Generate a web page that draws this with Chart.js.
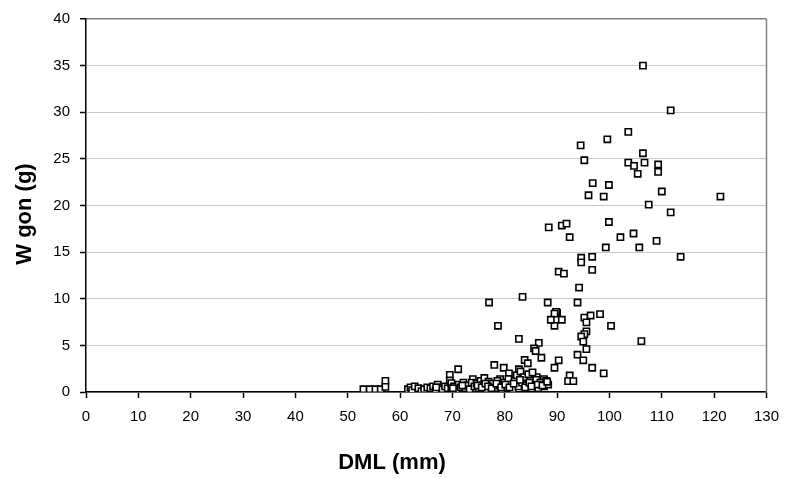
<!DOCTYPE html>
<html>
<head>
<meta charset="utf-8">
<script src="https://cdn.jsdelivr.net/npm/chart.js@4"></script>
<style>
  html, body { margin: 0; padding: 0; background: #fff; }
  #wrap { width: 789px; height: 478px; }
</style>
</head>
<body>
<div id="wrap"><canvas id="chart" width="789" height="478"></canvas></div>
<script>
// DML (mm) and W gon (g)
const dml = [
    106.4, 111.7, 103.6, 99.6, 94.5, 106.4, 95.2, 103.6, 104.7, 106.7,
    109.3, 109.3, 105.4, 96.8, 99.9, 96.0, 98.9, 110.0, 121.2, 107.5,
    111.7, 90.9, 91.8, 99.9, 92.4, 102.1, 104.6, 109.0, 99.3, 105.7,
    94.6, 94.6, 96.7, 113.6, 90.3, 91.3, 96.7, 94.2, 93.9, 90.0,
    90.9, 89.5, 95.2, 96.4, 98.2, 95.6, 100.3, 95.6, 95.2, 94.6,
    95.0, 106.1, 95.6, 93.9, 95.0, 90.3, 89.5, 96.7, 98.9, 92.4,
    92.1, 93.1, 88.4, 77.0, 83.4, 88.2, 89.8, 89.5, 88.8, 78.7,
    82.7, 86.5, 85.6, 85.9, 87.0, 83.8, 84.4, 78.0, 79.8, 80.8,
    82.7, 86.1, 87.5, 87.5, 85.3, 79.1, 69.5, 71.1, 69.5, 73.9,
    53.0, 54.2, 55.3, 56.3, 57.2, 57.2,
    61.5, 62.0, 62.3, 62.8, 63.5, 64.1, 64.6, 65.2, 65.8, 66.3,
    66.8, 67.2, 67.6, 68.1, 68.6, 69.1, 69.8, 69.8, 70.3, 70.7,
    71.2, 71.6, 72.1, 72.5, 72.9, 73.3, 73.7, 74.2, 74.6, 75.0,
    75.4, 75.8, 76.1, 76.5, 76.9, 77.3, 77.7, 78.2, 78.6, 79.0,
    79.5, 79.9, 80.3, 80.7, 81.1, 81.5, 81.9, 82.3, 82.6, 83.0,
    83.3, 83.7, 84.1, 84.5, 84.9, 85.3, 85.7, 86.0, 86.4, 86.8,
    87.9, 88.3,
    74.8, 75.6, 76.3, 76.8, 77.5, 78.4, 79.3, 80.1, 80.9, 81.7,
    82.9, 83.9, 84.7, 85.1, 86.3, 87.2, 88.1, 66.9, 70.1, 71.9
];
const wgon = [
    35.0, 30.2, 27.9, 27.1, 26.45, 25.6, 24.85, 24.6, 24.25, 24.6,
    24.4, 23.6, 23.4, 22.4, 22.2, 21.1, 20.96, 21.5, 20.96, 20.1,
    19.26, 17.85, 18.06, 18.23, 16.6, 16.6, 17.0, 16.2, 15.5, 15.5,
    14.4, 13.9, 14.5, 14.5, 12.9, 12.7, 13.1, 11.2, 9.6, 8.5,
    7.75, 7.1, 7.97, 8.2, 8.35, 7.47, 7.1, 6.5, 6.2, 5.95,
    5.4, 5.45, 4.6, 4.0, 3.4, 3.4, 2.6, 2.6, 2.0, 1.77,
    1.17, 1.17, 17.66, 9.6, 10.2, 9.6, 8.6, 8.4, 7.75, 7.1,
    5.7, 5.27, 4.67, 4.4, 3.67, 3.43, 3.08, 2.9, 2.6, 2.0,
    2.44, 1.6, 1.38, 0.6, 0.6, 1.38, 1.84, 2.44, 1.23, 1.38,
    0.3, 0.3, 0.3, 0.3, 1.2, 0.55,
    0.3, 0.5, 0.2, 0.6, 0.4, 0.1, 0.3, 0.5, 0.4, 0.6,
    0.2, 0.8, 0.5, 0.3, 0.6, 0.4, 0.95, 0.3, 0.6, 0.2,
    0.8, 0.5, 1.0, 0.4, 0.7, 0.3, 1.0, 0.6, 0.9, 0.4,
    1.2, 0.7, 1.5, 0.3, 1.1, 0.6, 0.9, 0.4, 1.2, 0.7,
    0.3, 1.0, 0.5, 1.4, 0.8, 0.3, 1.2, 1.8, 0.6, 2.2,
    1.0, 1.6, 0.7, 1.9, 1.2, 2.1, 0.9, 1.3, 0.4, 1.0,
    1.2, 0.8,
    0.7, 0.5, 0.9, 0.6, 0.4, 0.9, 0.5, 0.8, 0.5, 0.9,
    1.3, 0.5, 1.0, 0.6, 0.8, 0.7, 1.1, 0.5, 0.4, 0.7
];
const xTitle = "DML (mm)";
const yTitle = "W gon (g)";

const FONT = "'Liberation Sans', Arial, sans-serif";

const points = dml.map((x, i) => ({ x: x, y: wgon[i] }));

// axis titles and the grey right-hand frame line
const frame = {
    id: "frame",
    afterDraw(chart) {
        const c = chart.ctx;
        const a = chart.chartArea;
        c.save();
        c.strokeStyle = "#808080";
        c.lineWidth = 1.5;
        c.beginPath();
        c.moveTo(a.right, a.top);
        c.lineTo(a.right, a.bottom);
        c.stroke();

        c.fillStyle = "#000";
        c.font = "bold 22px " + FONT;
        c.textAlign = "center";
        c.textBaseline = "alphabetic";
        c.fillText(xTitle, 392, 469);

        c.translate(31, 214);
        c.rotate(-Math.PI / 2);
        c.fillText(yTitle, 0, 0);
        c.restore();
    }
};

new Chart(document.getElementById("chart"), {
    type: "scatter",
    data: {
        datasets: [{
            data: points,
            pointStyle: "rect",
            pointRadius: 4.4,
            pointHoverRadius: 4.4,
            borderColor: "#000",
            backgroundColor: "#fff",
            borderWidth: 1.6
        }]
    },
    options: {
        responsive: false,
        animation: false,
        layout: { padding: { left: 0, top: 16, right: 18, bottom: 0 } },
        plugins: { legend: { display: false }, tooltip: { enabled: false } },
        scales: {
            x: {
                type: "linear",
                min: 0,
                max: 130,
                afterFit(s) { s.height = 86; },
                ticks: { stepSize: 10, color: "#000", font: { family: FONT, size: 15 }, padding: 10 },
                grid: { drawOnChartArea: false, tickLength: 6, tickColor: "#000", tickWidth: 1.5 },
                border: { color: "#000", width: 1.5 }
            },
            y: {
                min: 0,
                max: 40,
                afterFit(s) { s.width = 86; },
                ticks: { stepSize: 5, color: "#000", font: { family: FONT, size: 15 }, padding: 10 },
                grid: {
                    color: (ctx) => ctx.tick && ctx.tick.value === 40 ? "#808080" : "#c8c8c8",
                    lineWidth: (ctx) => ctx.tick && ctx.tick.value === 40 ? 1.5 : 1,
                    tickLength: 6,
                    tickColor: "#000",
                    tickWidth: 1.5
                },
                border: { color: "#000", width: 1.5 }
            }
        }
    },
    plugins: [frame]
});
</script>
</body>
</html>
